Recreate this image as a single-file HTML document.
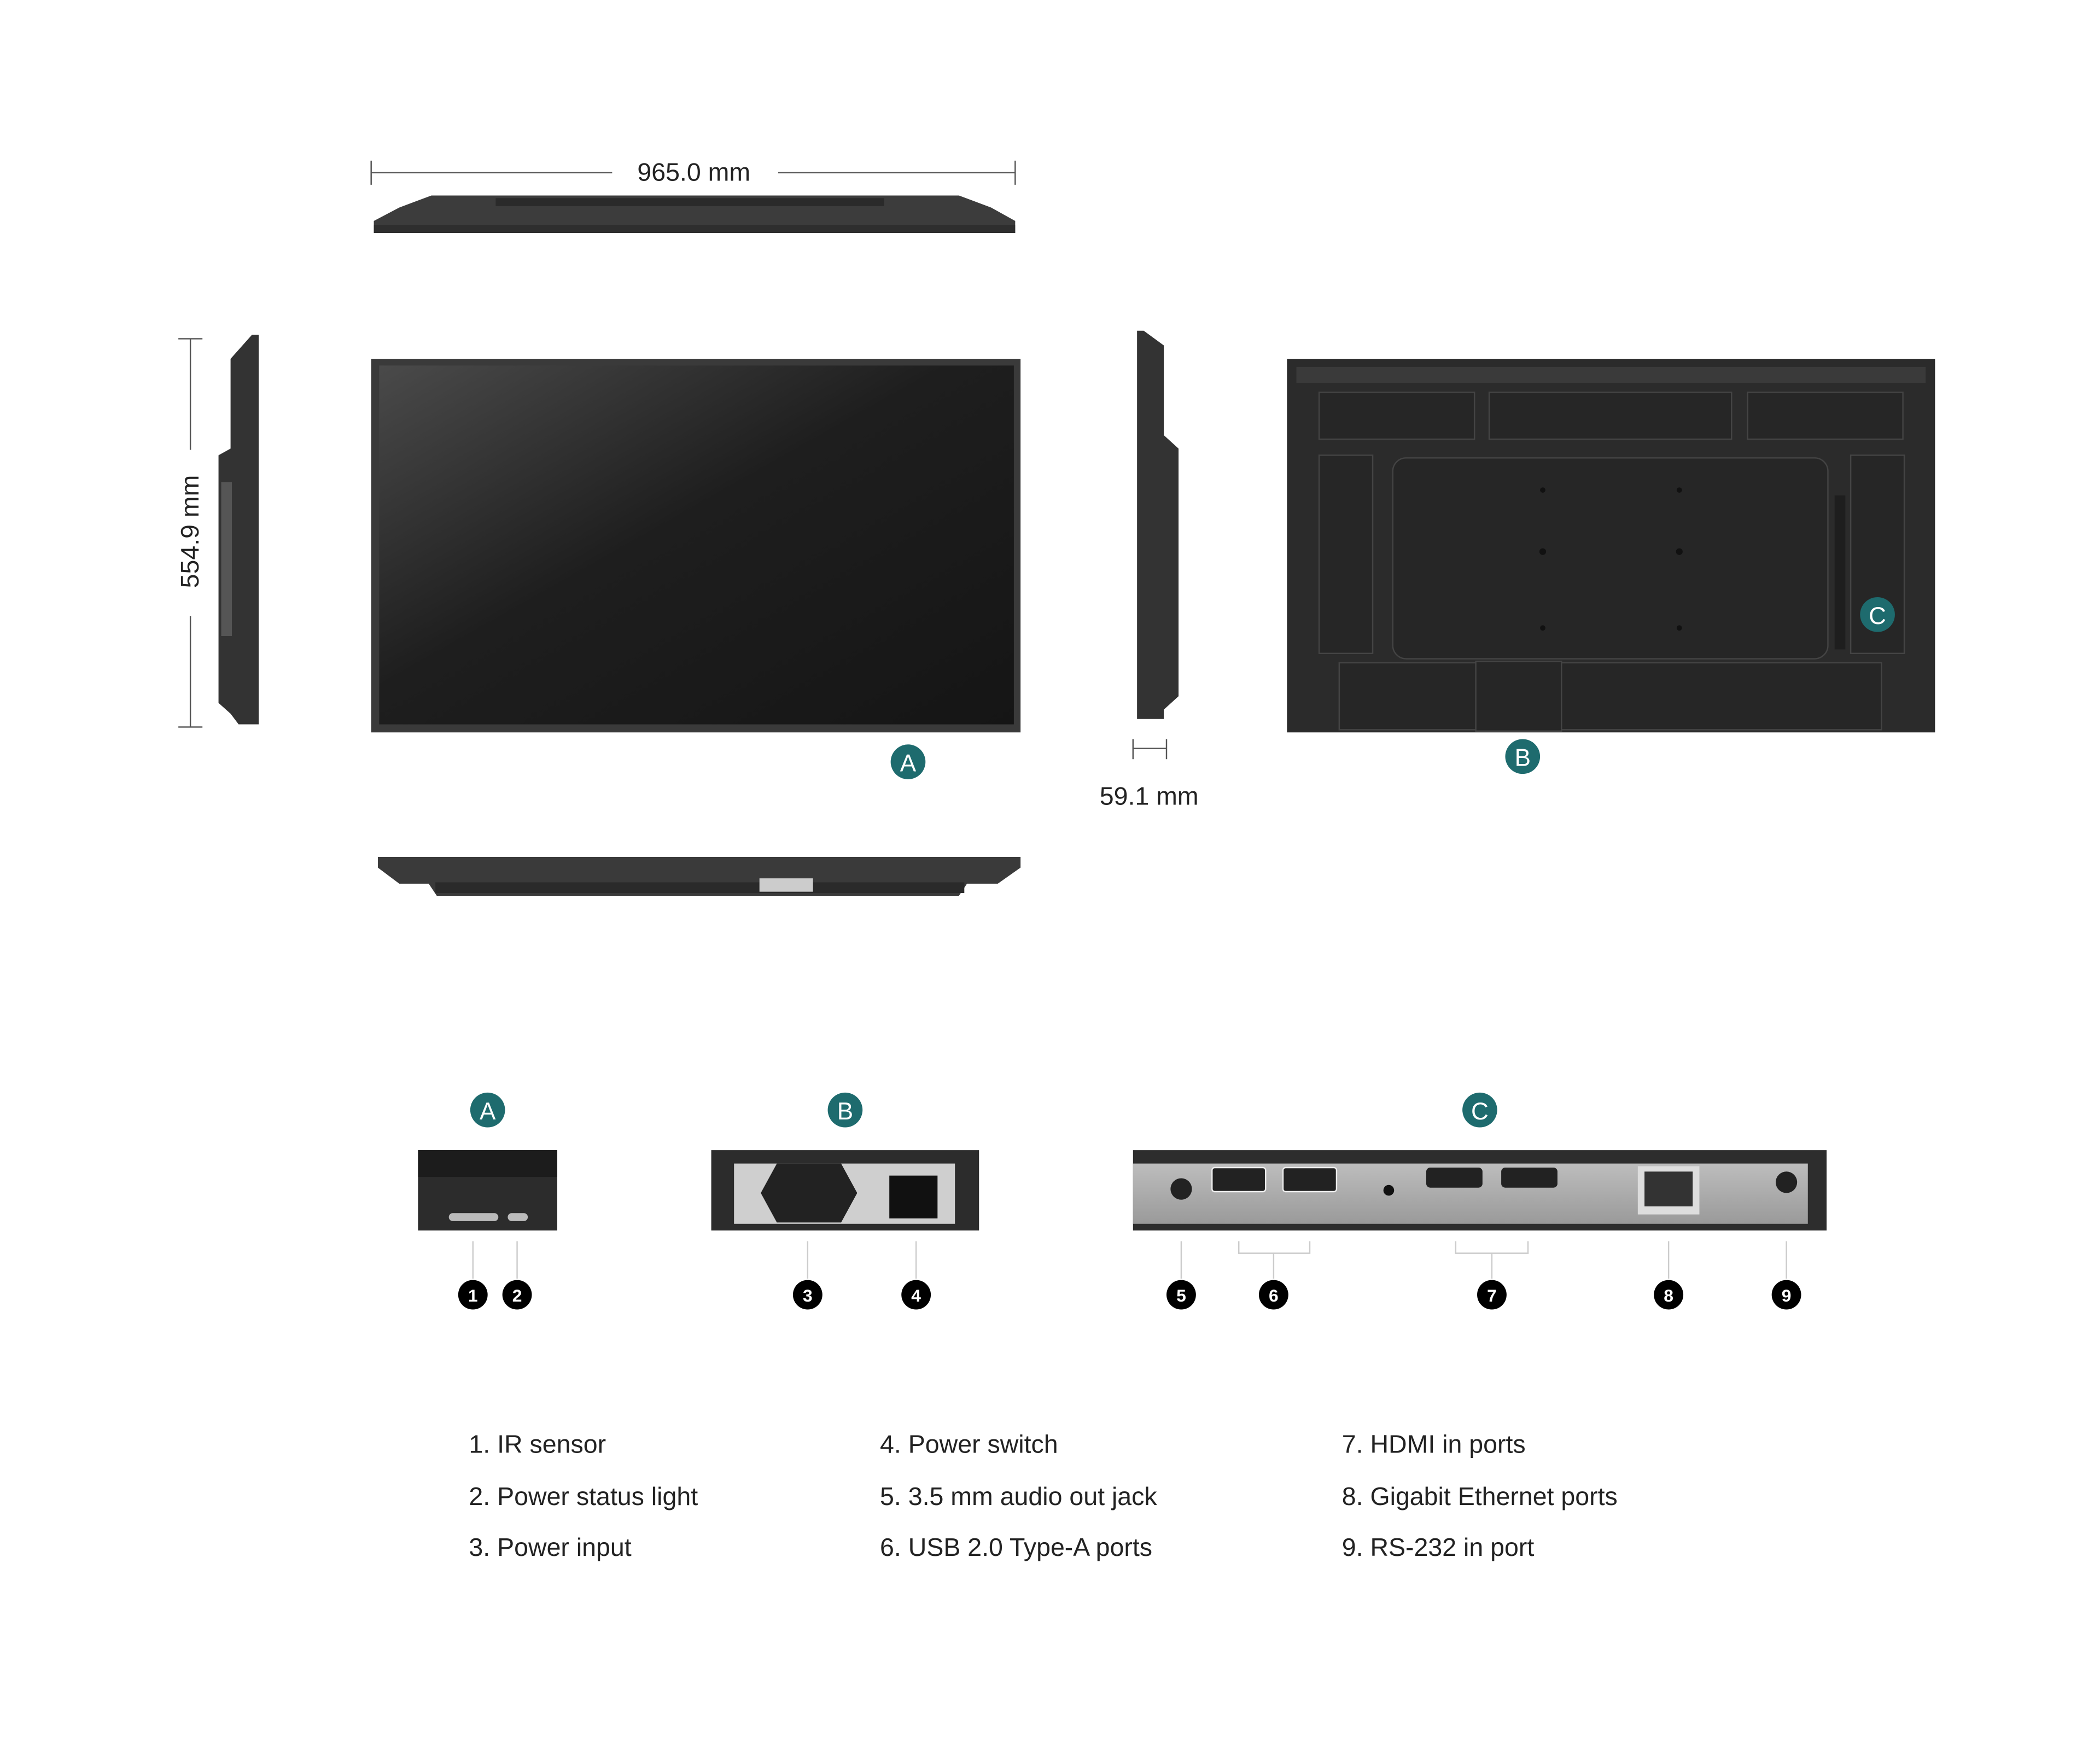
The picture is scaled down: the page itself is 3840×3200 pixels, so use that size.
<!DOCTYPE html>
<html><head><meta charset="utf-8"><style>
html,body{margin:0;padding:0;background:#fff;}
svg{display:block;}
text{font-family:"Liberation Sans",sans-serif;}
</style></head><body>
<svg width="3840" height="3200" viewBox="0 0 1568 1307" xmlns="http://www.w3.org/2000/svg">
<defs>
<linearGradient id="scr" x1="0" y1="0" x2="1" y2="1">
<stop offset="0" stop-color="#4a4a4a"/><stop offset="0.45" stop-color="#1e1e1e"/><stop offset="1" stop-color="#151515"/>
</linearGradient>
<linearGradient id="metal" x1="0" y1="0" x2="0" y2="1">
<stop offset="0" stop-color="#bdbdbd"/><stop offset="1" stop-color="#9a9a9a"/>
</linearGradient>
</defs>
<g stroke="#555" stroke-width="1">
<line x1="277" y1="129" x2="457" y2="129"/><line x1="581" y1="129" x2="758" y2="129"/>
<line x1="277" y1="120" x2="277" y2="138"/><line x1="758" y1="120" x2="758" y2="138"/>
</g>
<text x="518" y="135" font-size="19" text-anchor="middle" fill="#222">965.0 mm</text>
<polygon points="322,146 716,146 740,155 758,165 758,174 279,174 279,165 298,155" fill="#3c3c3c"/>
<rect x="370" y="148" width="290" height="6" fill="#2a2a2a"/>
<rect x="279" y="168" width="479" height="6" fill="#2e2e2e"/>
<polygon points="188,250 193,250 193,541 178,541 172,533 163,525 163,340 172,335 172,268" fill="#333"/>
<rect x="165" y="360" width="8" height="115" fill="#555"/>
<g stroke="#555" stroke-width="1">
<line x1="142" y1="253" x2="142" y2="336"/><line x1="142" y1="460" x2="142" y2="543"/>
<line x1="133" y1="253" x2="151" y2="253"/><line x1="133" y1="543" x2="151" y2="543"/>
</g>
<text transform="translate(148,397) rotate(-90)" font-size="19" text-anchor="middle" fill="#222">554.9 mm</text>
<rect x="277" y="268" width="485" height="279" fill="#3a3a3a"/>
<rect x="283" y="273" width="474" height="268" fill="url(#scr)"/>
<circle cx="678" cy="569" r="13" fill="#1e6b6e"/><text x="678" y="576" font-size="18" fill="#fff" text-anchor="middle">A</text>
<polygon points="849,247 854,247 869,258 869,325 880,335 880,520 869,530 869,537 849,537" fill="#333"/>
<g stroke="#555" stroke-width="1"><line x1="846" y1="559" x2="871" y2="559"/><line x1="846" y1="552" x2="846" y2="567"/><line x1="871" y1="552" x2="871" y2="567"/></g>
<text x="858" y="601" font-size="19" text-anchor="middle" fill="#222">59.1 mm</text>
<rect x="961" y="268" width="484" height="279" fill="#2b2b2b"/>
<rect x="968" y="274" width="470" height="12" fill="#3a3a3a"/>
<g fill="#262626" stroke="#444" stroke-width="1">
<rect x="985" y="293" width="116" height="35"/><rect x="1112" y="293" width="181" height="35"/><rect x="1305" y="293" width="116" height="35"/>
<rect x="985" y="340" width="40" height="148"/><rect x="1382" y="340" width="40" height="148"/>
<rect x="1040" y="342" width="325" height="150" rx="10"/>
<rect x="1000" y="495" width="405" height="50"/>
<rect x="1102" y="494" width="64" height="52"/>
</g>
<g fill="#111"><circle cx="1152" cy="412" r="2.5"/><circle cx="1254" cy="412" r="2.5"/><circle cx="1152" cy="469" r="2"/><circle cx="1254" cy="469" r="2"/><circle cx="1152" cy="366" r="2"/><circle cx="1254" cy="366" r="2"/></g>
<rect x="1370" y="370" width="8" height="115" fill="#1e1e1e"/>
<circle cx="1137" cy="565" r="13" fill="#1e6b6e"/><text x="1137" y="572" font-size="18" fill="#fff" text-anchor="middle">B</text>
<circle cx="1402" cy="459" r="13" fill="#1e6b6e"/><text x="1402" y="466" font-size="18" fill="#fff" text-anchor="middle">C</text>
<polygon points="282,640 762,640 762,648 745,660 722,660 716,669 326,669 320,660 298,660 282,648" fill="#3a3a3a"/>
<rect x="325" y="659" width="395" height="8" fill="#2a2a2a"/>
<rect x="567" y="656" width="40" height="10" fill="#ccc"/>
<circle cx="364" cy="829" r="13" fill="#1e6b6e"/><text x="364" y="836" font-size="18" fill="#fff" text-anchor="middle">A</text>
<circle cx="631" cy="829" r="13" fill="#1e6b6e"/><text x="631" y="836" font-size="18" fill="#fff" text-anchor="middle">B</text>
<circle cx="1105" cy="829" r="13" fill="#1e6b6e"/><text x="1105" y="836" font-size="18" fill="#fff" text-anchor="middle">C</text>
<rect x="312" y="859" width="104" height="60" fill="#2c2c2c"/>
<rect x="312" y="859" width="104" height="20" fill="#1c1c1c"/>
<rect x="335" y="906" width="37" height="6" rx="3" fill="#bbb"/><rect x="379" y="906" width="15" height="6" rx="3" fill="#bbb"/>
<rect x="531" y="859" width="200" height="60" fill="#2c2c2c"/>
<rect x="548" y="869" width="165" height="45" fill="#cfcfcf"/>
<polygon points="580,869 628,869 640,891 628,913 580,913 568,891" fill="#222"/>
<rect x="664" y="878" width="36" height="32" fill="#111"/>
<rect x="846" y="859" width="518" height="60" fill="#2d2d2d"/>
<rect x="846" y="869" width="504" height="45" fill="url(#metal)"/>
<circle cx="882" cy="888" r="8" fill="#222"/>
<rect x="905" y="872" width="40" height="18" rx="2" fill="#222" stroke="#eee"/><rect x="958" y="872" width="40" height="18" rx="2" fill="#222" stroke="#eee"/>
<circle cx="1037" cy="889" r="4" fill="#111"/>
<rect x="1065" y="872" width="42" height="15" rx="3" fill="#222"/><rect x="1121" y="872" width="42" height="15" rx="3" fill="#222"/>
<rect x="1223" y="871" width="46" height="36" fill="#ddd"/><rect x="1228" y="875" width="36" height="26" fill="#333"/>
<circle cx="1334" cy="883" r="8" fill="#222"/>
<g stroke="#ccc" stroke-width="1" fill="none">
<line x1="353" y1="927" x2="353" y2="955"/><line x1="386" y1="927" x2="386" y2="955"/>
<line x1="603" y1="927" x2="603" y2="955"/><line x1="684" y1="927" x2="684" y2="955"/>
<line x1="882" y1="927" x2="882" y2="955"/>
<polyline points="925,927 925,936 978,936 978,927"/><line x1="951" y1="936" x2="951" y2="955"/>
<polyline points="1087,927 1087,936 1141,936 1141,927"/><line x1="1114" y1="936" x2="1114" y2="955"/>
<line x1="1246" y1="927" x2="1246" y2="955"/><line x1="1334" y1="927" x2="1334" y2="955"/>
</g>
<g font-size="13" fill="#fff" text-anchor="middle" font-weight="bold">
<circle cx="353" cy="967" r="11" fill="#000"/><text x="353" y="972">1</text>
<circle cx="386" cy="967" r="11" fill="#000"/><text x="386" y="972">2</text>
<circle cx="603" cy="967" r="11" fill="#000"/><text x="603" y="972">3</text>
<circle cx="684" cy="967" r="11" fill="#000"/><text x="684" y="972">4</text>
<circle cx="882" cy="967" r="11" fill="#000"/><text x="882" y="972">5</text>
<circle cx="951" cy="967" r="11" fill="#000"/><text x="951" y="972">6</text>
<circle cx="1114" cy="967" r="11" fill="#000"/><text x="1114" y="972">7</text>
<circle cx="1246" cy="967" r="11" fill="#000"/><text x="1246" y="972">8</text>
<circle cx="1334" cy="967" r="11" fill="#000"/><text x="1334" y="972">9</text>
</g>
<g font-size="19" fill="#222">
<text x="350" y="1085">1. IR sensor</text><text x="350" y="1124">2. Power status light</text><text x="350" y="1162">3. Power input</text>
<text x="657" y="1085">4. Power switch</text><text x="657" y="1124">5. 3.5 mm audio out jack</text><text x="657" y="1162">6. USB 2.0 Type-A ports</text>
<text x="1002" y="1085">7. HDMI in ports</text><text x="1002" y="1124">8. Gigabit Ethernet ports</text><text x="1002" y="1162">9. RS-232 in port</text>
</g>
</svg>
</body></html>
